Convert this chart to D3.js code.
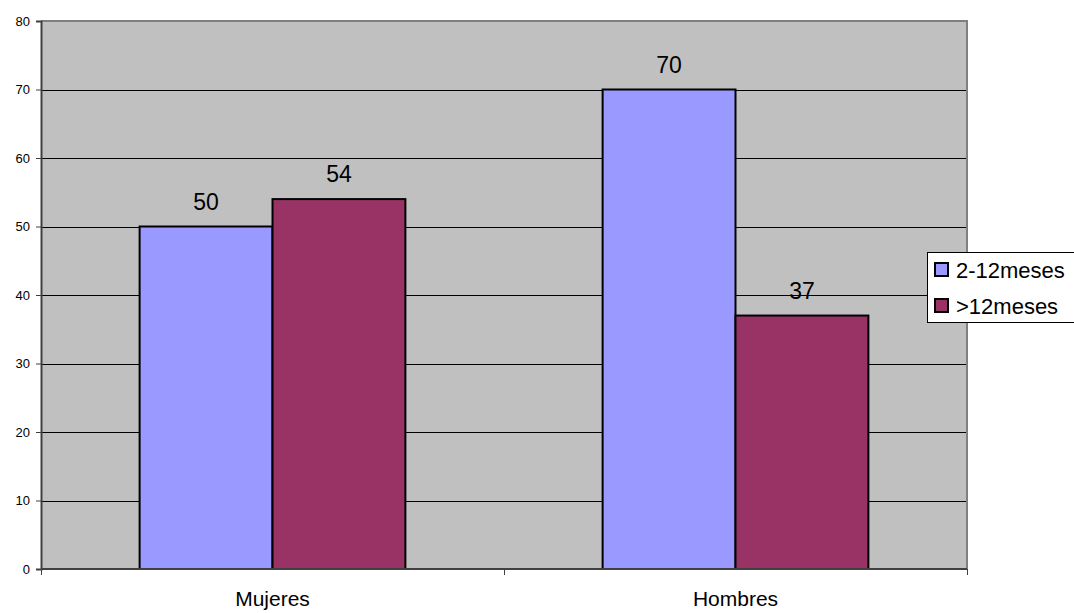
<!DOCTYPE html>
<html><head><meta charset="utf-8">
<script src="https://cdn.jsdelivr.net/npm/d3@7"></script>
<style>body{margin:0;background:#fff;} svg{display:block;font-family:"Liberation Sans",Arial,sans-serif;}</style>
</head><body>
<svg id="c" width="1074" height="613"></svg>
<script>
const categories = ["Mujeres", "Hombres"];
const seriesNames = ["2-12meses", ">12meses"];
const series1 = [50, 70];
const series2 = [54, 37];
const yTicks = [0, 10, 20, 30, 40, 50, 60, 70, 80];
const colors = ["#9999FF", "#993366"];

const svg = d3.select("#c");
const L = 41, R = 967, T = 21, B = 569;
const x = d3.scaleBand().domain(categories).range([L, R]).paddingInner(0).paddingOuter(0);
const y = d3.scaleLinear().domain([0, 80]).range([B, T]);
const barW = x.bandwidth() * 0.287;
const data = categories.map((c, i) => ({c, vals: [series1[i], series2[i]]}));

svg.append("rect").attr("x", L).attr("y", T).attr("width", R - L).attr("height", B - T).attr("fill", "#C0C0C0");

// grid
svg.append("g").selectAll("line").data(yTicks.filter(d => d > 0 && d < 80)).join("line")
  .attr("x1", L).attr("x2", R).attr("y1", d => Math.round(y(d)) + 0.5).attr("y2", d => Math.round(y(d)) + 0.5)
  .attr("stroke", "#000").attr("stroke-width", 1);

// plot border top/right
svg.append("path").attr("d", `M${L},${T}H${R}V${B}`).attr("fill", "none").attr("stroke", "#808080").attr("stroke-width", 2);

// bars
const g = svg.append("g");
data.forEach(d => {
  const cx = x(d.c) + x.bandwidth() / 2;
  d.vals.forEach((v, j) => {
    const x0 = cx - barW + j * barW;
    g.append("rect").attr("x", x0).attr("y", y(v)).attr("width", barW).attr("height", B - y(v))
      .attr("fill", colors[j]).attr("stroke", "#000").attr("stroke-width", 2);
    g.append("text").attr("x", x0 + barW / 2).attr("y", y(v) - 17).attr("text-anchor", "middle")
      .attr("font-size", 23).attr("fill", "#000").text(v);
  });
});

// y axis
const ya = svg.append("g").attr("transform", `translate(${L},0)`)
  .call(d3.axisLeft(y).tickValues(yTicks).tickSize(5).tickPadding(6));
ya.select(".domain").attr("stroke", "#404040").attr("stroke-width", 2);
ya.selectAll(".tick line").attr("stroke", "#404040");
ya.selectAll("text").attr("font-size", 13).attr("font-family", "Liberation Sans, Arial, sans-serif").attr("fill", "#000");

// x axis
const xa = svg.append("g").attr("transform", `translate(0,${B})`)
  .call(d3.axisBottom(x).tickSize(0).tickPadding(0));
xa.select(".domain").remove();
xa.selectAll(".tick text").attr("font-size", 21).attr("font-family", "Liberation Sans, Arial, sans-serif").attr("fill", "#000").attr("dy", null).attr("y", 37);
svg.append("line").attr("x1", L).attr("x2", R).attr("y1", B).attr("y2", B).attr("stroke", "#404040").attr("stroke-width", 2);
svg.append("g").selectAll("line").data([L, x(categories[1]), R]).join("line")
  .attr("x1", d => Math.round(d) + 0.5).attr("x2", d => Math.round(d) + 0.5).attr("y1", B).attr("y2", B + 6)
  .attr("stroke", "#404040");

// legend
const lg = svg.append("g");
lg.append("rect").attr("x", 927.5).attr("y", 252.5).attr("width", 160).attr("height", 70).attr("fill", "#fff").attr("stroke", "#000").attr("stroke-width", 1);
seriesNames.forEach((n, i) => {
  const yy = 270 + i * 36;
  lg.append("rect").attr("x", 935).attr("y", yy - 7).attr("width", 13).attr("height", 13).attr("fill", colors[i]).attr("stroke", "#000").attr("stroke-width", 2);
  lg.append("text").attr("x", 956).attr("y", yy + 8).attr("font-size", 22).attr("fill", "#000").text(n);
});
</script>
</body></html>
